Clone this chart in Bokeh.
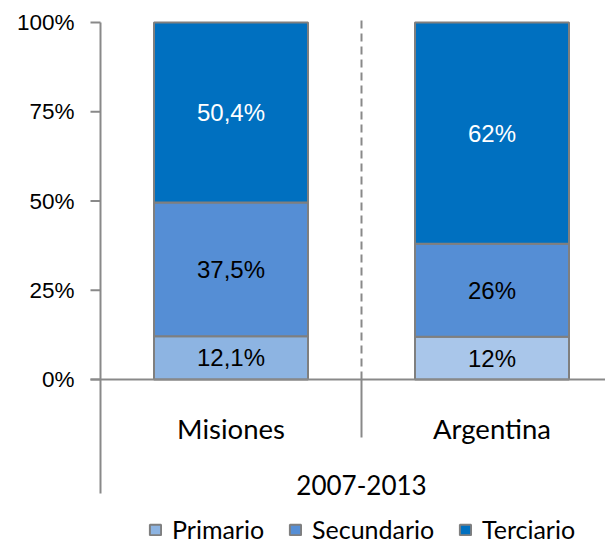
from bokeh.plotting import figure
from bokeh.models import (Range1d, FixedTicker, PrintfTickFormatter, ColumnDataSource,
                          Legend, LegendItem)
from bokeh.core.properties import value
from bokeh.embed import file_html
from bokeh.resources import INLINE

# ---------------- data ----------------
categories = ["Misiones", "Argentina"]
group_label = "2007-2013"
series_names = ["Primario", "Secundario", "Terciario"]
primario = [12.1, 12.0]
secundario = [37.5, 26.0]
terciario = [50.4, 62.0]
y_ticks = [0, 25, 50, 75, 100]

# ---------------- style ----------------
primario_colors = ["#8DB4E2", "#A9C6EA"]
secundario_color = "#558ED5"
terciario_color = "#0070C0"
edge = "#7F7F7F"
axis_col = "#898989"
CAT_FONT = "Lato"
NUM_FONT = "Liberation Sans"

ORIGIN = 0
W, H = 605, 546
PX = 261.0      # pixels per category
PY = 3.57       # pixels per percent
axis_px = 100
LEFT_BORDER = 89 - ORIGIN
frame_left_px = ORIGIN + LEFT_BORDER
zero_px = 379
top_px = 22
x_start = (frame_left_px - axis_px) / PX
x_end = (ORIGIN + W - axis_px) / PX
y_start = -(ORIGIN + H - zero_px) / PY
y_end = 100 + (top_px - ORIGIN) / PY

p = figure(width=W, height=H, output_backend="svg", toolbar_location=None,
           x_range=Range1d(x_start, x_end), y_range=Range1d(y_start, y_end),
           x_axis_location=None, min_border_left=LEFT_BORDER, min_border_right=0,
           min_border_top=0, min_border_bottom=0)
p.outline_line_color = None
p.xgrid.visible = False
p.ygrid.visible = False

yax = p.yaxis[0]
yax.ticker = FixedTicker(ticks=y_ticks)
yax.formatter = PrintfTickFormatter(format="%d%%")
yax.axis_line_color = None
yax.major_tick_line_color = None
yax.minor_tick_line_color = None
yax.major_tick_out = 0
yax.major_tick_in = 0
yax.major_label_standoff = 15
yax.major_label_text_font = NUM_FONT
yax.major_label_text_font_size = "22.5px"
yax.major_label_text_color = "#000000"

xs = [i + 0.5 for i in range(len(categories))]
bw = 154 / PX

# stacked bars
b1 = [0.0, 0.0]
t1 = [b + v for b, v in zip(b1, primario)]
b2 = t1
t2 = [b + v for b, v in zip(b2, secundario)]
b3 = t2
t3 = [b + v for b, v in zip(b3, terciario)]

def fmt(v):
    return f"{v:g}".replace(".", ",") + "%"

src1 = ColumnDataSource(dict(x=xs, bottom=b1, top=t1, color=primario_colors,
                             mid=[(b + t) / 2 for b, t in zip(b1, t1)], lab=[fmt(v) for v in primario]))
src2 = ColumnDataSource(dict(x=xs, bottom=b2, top=t2, color=[secundario_color] * 2,
                             mid=[(b + t) / 2 for b, t in zip(b2, t2)], lab=[fmt(v) for v in secundario]))
src3 = ColumnDataSource(dict(x=xs, bottom=b3, top=t3, color=[terciario_color] * 2,
                             mid=[(b + t) / 2 for b, t in zip(b3, t3)], lab=[fmt(v) for v in terciario]))

renderers = []
for src in (src1, src2, src3):
    r = p.vbar(x="x", bottom="bottom", top="top", width=bw, source=src,
               fill_color="color", line_color=edge, line_width=2)
    renderers.append(r)

for src, col in ((src1, "#000000"), (src2, "#000000"), (src3, "#FFFFFF")):
    p.text(x="x", y="mid", text="lab", source=src, text_align="center",
           text_baseline="middle", text_font=value(NUM_FONT),
           text_font_size=value("24px"), text_color=col)

# axes lines drawn manually
tick_len = 10 / PX
p.segment(x0=[0], y0=[y_ticks[-1]], x1=[0], y1=[-(493 - zero_px) / PY],
          line_color=axis_col, line_width=2)
p.segment(x0=[-tick_len] * len(y_ticks), y0=y_ticks, x1=[0] * len(y_ticks), y1=y_ticks,
          line_color=axis_col, line_width=2)
p.segment(x0=[-tick_len], y0=[0], x1=[x_end], y1=[0], line_color=axis_col, line_width=2)

# separator between categories
sep_x = 1.0
p.segment(x0=[sep_x], y0=[0], x1=[sep_x], y1=[(zero_px - 15) / PY],
          line_color=axis_col, line_width=2, line_dash="8 5")
p.segment(x0=[sep_x], y0=[0], x1=[sep_x], y1=[-(437 - zero_px) / PY],
          line_color=axis_col, line_width=2)

# category labels
p.text(x=xs, y=[0, 0], text=categories, text_align="center", text_baseline="alphabetic",
       y_offset=49, text_font=value(CAT_FONT), text_font_size=value("27.5px"),
       text_color="#000000")
p.text(x=[sep_x], y=[0], text=[group_label], text_align="center", text_baseline="alphabetic",
       y_offset=105, text_font=value(CAT_FONT), text_font_size=value("26px"),
       text_color="#000000")

# legends (one per item, placed individually)
leg_x = [148, 288, 458]
for name, r, lx in zip(series_names, renderers, leg_x):
    leg = Legend(items=[LegendItem(label=name, renderers=[r], index=0)],
                 location=(lx - frame_left_px, 2), orientation="horizontal",
                 glyph_width=14, glyph_height=13, label_standoff=10,
                 padding=0, margin=0, border_line_color=None,
                 background_fill_alpha=0, label_text_font=CAT_FONT,
                 label_text_font_size="25px", label_text_color="#000000")
    p.add_layout(leg)

open("out.html", "w").write(file_html(p, INLINE))
